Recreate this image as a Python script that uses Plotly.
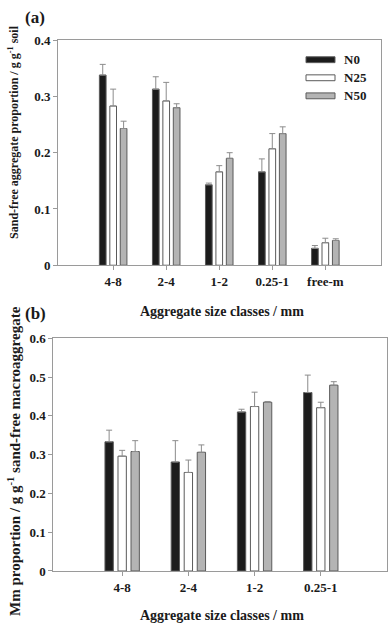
import plotly.graph_objects as go

# ---- data ----
cats_a = ["4-8", "2-4", "1-2", "0.25-1", "free-m"]
n0_a = [0.338, 0.313, 0.143, 0.166, 0.030]
n25_a = [0.283, 0.292, 0.166, 0.207, 0.040]
n50_a = [0.243, 0.280, 0.190, 0.234, 0.044]
n0_a_err = [0.019, 0.022, 0.003, 0.023, 0.005]
n25_a_err = [0.030, 0.033, 0.011, 0.027, 0.008]
n50_a_err = [0.013, 0.007, 0.010, 0.012, 0.003]

cats_b = ["4-8", "2-4", "1-2", "0.25-1"]
n0_b = [0.333, 0.281, 0.410, 0.460]
n25_b = [0.296, 0.254, 0.424, 0.421]
n50_b = [0.308, 0.306, 0.435, 0.479]
n0_b_err = [0.030, 0.055, 0.007, 0.045]
n25_b_err = [0.015, 0.032, 0.037, 0.014]
n50_b_err = [0.028, 0.019, 0.002, 0.009]

series_names = ["N0", "N25", "N50"]

# ---- style ----
W, H = 388, 632
FONT = "Liberation Serif"
TXT = "#1a1a1a"
fills = ["#1c1c1c", "#ffffff", "#b4b4b4"]
edge = "#5a5a5a"
errc = "#8c8c8c"
axc = "#9a9a9a"


def px(x):
    return x / W


def py(y):
    return 1 - y / H


fig = go.Figure()

panels = [
    ("x", "y", cats_a, [n0_a, n25_a, n50_a], [n0_a_err, n25_a_err, n50_a_err]),
    ("x2", "y2", cats_b, [n0_b, n25_b, n50_b], [n0_b_err, n25_b_err, n50_b_err]),
]
for xa, ya, cats, vals, errs in panels:
    for name, v, e, f in zip(series_names, vals, errs, fills):
        fig.add_trace(go.Bar(
            x=cats, y=v, name=name, xaxis=xa, yaxis=ya, showlegend=False,
            marker=dict(color=f, line=dict(color=edge, width=1)),
            error_y=dict(type="data", symmetric=False, array=e,
                         arrayminus=[0] * len(e), color=errc,
                         thickness=1, width=3),
        ))

tickfont = dict(family=FONT, size=13, color=TXT, weight="bold")
common_x = dict(showline=True, linecolor=axc, linewidth=1, mirror=True,
                ticks="outside", ticklen=4, tickcolor=axc,
                tickfont=tickfont, showgrid=False, zeroline=False,
                type="category")
common_y = dict(showline=True, linecolor=axc, linewidth=1, mirror=True,
                ticks="outside", ticklen=4, tickcolor=axc,
                tickfont=tickfont, showgrid=False, zeroline=False,
                dtick=0.1)

fig.update_layout(
    width=W, height=H,
    margin=dict(l=0, r=0, t=0, b=0),
    paper_bgcolor="white", plot_bgcolor="white",
    barmode="group", bargap=0.41, bargroupgap=0.36,
    xaxis=dict(common_x, domain=[px(58), px(380.5)], range=[-1.04, 5.04],
               anchor="y"),
    yaxis=dict(common_y, domain=[py(264.5), py(34)], range=[0, 0.4],
               anchor="x"),
    xaxis2=dict(common_x, domain=[px(53.3), px(387)], range=[-1.04, 4.0],
                anchor="y2"),
    yaxis2=dict(common_y, domain=[py(577.7), py(339.3)], range=[0, 0.6],
                anchor="x2"),
)

ann = []
# panel labels
ann.append(dict(text="(a)", x=px(23), y=py(11), xanchor="left", yanchor="middle",
                font=dict(family=FONT, size=17, color=TXT, weight="bold")))
ann.append(dict(text="(b)", x=px(23), y=py(314), xanchor="left", yanchor="middle",
                font=dict(family=FONT, size=17, color=TXT, weight="bold")))
# x titles
ann.append(dict(text="Aggregate size classes / mm", x=px(222), y=py(312),
                xanchor="center", yanchor="middle",
                font=dict(family=FONT, size=14, color=TXT, weight="bold")))
ann.append(dict(text="Aggregate size classes / mm", x=px(222), y=py(623),
                xanchor="center", yanchor="middle",
                font=dict(family=FONT, size=14, color=TXT, weight="bold")))
# y titles
ann.append(dict(text="Sand-free aggregate proportion / g g<sup>-1</sup> soil",
                x=px(14), y=py(128), textangle=-90,
                xanchor="center", yanchor="middle",
                font=dict(family=FONT, size=12, color=TXT, weight="bold")))
ann.append(dict(text="Mm proportion / g g<sup>-1</sup> sand-free macroaggregate",
                x=px(14), y=py(465), textangle=-90,
                xanchor="center", yanchor="middle",
                font=dict(family=FONT, size=15, color=TXT, weight="bold")))

# legend (manual)
shapes = []
leg_y = [54, 72.5, 91]
for name, f, ly in zip(series_names, fills, leg_y):
    shapes.append(dict(type="rect", xref="paper", yref="paper",
                       x0=px(306), x1=px(335), y0=py(ly + 3), y1=py(ly - 3),
                       fillcolor=f, line=dict(color=edge, width=1)))
    ann.append(dict(text=name, x=px(342), y=py(ly), xanchor="left",
                    yanchor="middle",
                    font=dict(family=FONT, size=13, color=TXT, weight="bold")))

for a in ann:
    a.update(xref="paper", yref="paper", showarrow=False)

fig.update_layout(annotations=ann, shapes=shapes)

fig.write_html("out.html", config={"displayModeBar": False},
               post_script="document.body.style.margin='0';")
